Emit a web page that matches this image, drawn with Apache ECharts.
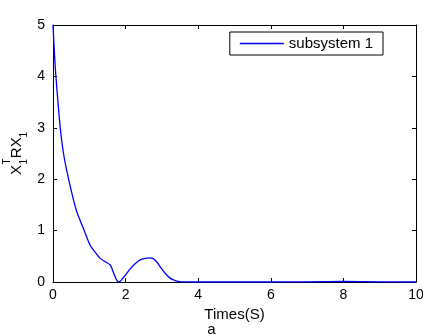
<!DOCTYPE html>
<html>
<head>
<meta charset="utf-8">
<script src="https://cdn.jsdelivr.net/npm/echarts@6/dist/echarts.min.js"></script>
<style>
  html, body { margin: 0; padding: 0; background: #fff; }
  #main { width: 423px; height: 336px; }
</style>
</head>
<body>
<div id="main"></div>
<script>
// time (s) and X1'RX1 values
var times = [0, 0.04, 0.08, 0.2, 0.29, 0.43, 0.64, 0.86, 1.02, 1.17, 1.3, 1.45, 1.58, 1.63, 1.7, 1.75, 1.8, 1.86, 1.92, 1.99, 2.12, 2.27, 2.4, 2.54, 2.65, 2.75, 2.86, 2.97, 3.09, 3.2, 3.32, 3.45, 3.6, 4, 6, 7, 8, 9, 10];
var values = [5, 4.45, 4, 3, 2.5, 2, 1.4, 1.0, 0.72, 0.57, 0.46, 0.39, 0.33, 0.25, 0.12, 0.04, 0.005, 0.02, 0.07, 0.13, 0.25, 0.36, 0.43, 0.46, 0.47, 0.46, 0.39, 0.28, 0.17, 0.09, 0.04, 0.01, 0, 0, 0, 0.003, 0.01, 0.003, 0];
var xTicks = [0, 2, 4, 6, 8, 10];
var yTicks = [0, 1, 2, 3, 4, 5];

var seriesData = times.map(function (t, i) { return [t, values[i]]; });

var font = 'Liberation Sans, Arial, sans-serif';
var chart = echarts.init(document.getElementById('main'));

function axisBase() {
  return {
    axisLine: { show: true, onZero: false, lineStyle: { color: '#000', width: 1 } },
    axisTick: { show: true, inside: true, length: 4, lineStyle: { color: '#000' } },
    splitLine: { show: false }
  };
}

chart.setOption({
  animation: false,
  title: {
    text: 'a', left: 'center', top: 317,
    textStyle: { fontFamily: font, fontSize: 15, fontWeight: 'normal', color: '#000' }
  },
  grid: { left: 53, right: 7, top: 25, bottom: 54, containLabel: false, outerBoundsMode: 'none' },
  legend: {
    data: ['subsystem 1'],
    right: 40, top: 32,
    itemWidth: 44, itemHeight: 15,
    itemGap: 6,
    padding: [4, 10, 4, 10],
    borderColor: '#000', borderWidth: 1,
    icon: 'path://M0,7 L44,7 L44,8.4 L0,8.4 Z',
    itemStyle: { color: '#0000ff', borderWidth: 0 },
    textStyle: { fontFamily: font, fontSize: 15, color: '#000' }
  },
  xAxis: [
    Object.assign(axisBase(), {
      type: 'value', min: 0, max: 10, interval: 2,
      name: 'Times(S)', nameLocation: 'middle', nameGap: 19,
      nameTextStyle: { fontFamily: font, fontSize: 15, color: '#000' },
      axisLabel: { fontFamily: font, fontSize: 14, color: '#000', margin: 6,
        formatter: function (v) { return xTicks.indexOf(v) >= 0 ? String(v) : ''; } }
    }),
    Object.assign(axisBase(), {
      type: 'value', min: 0, max: 10, interval: 2, position: 'top',
      axisLabel: { show: false }
    })
  ],
  yAxis: [
    Object.assign(axisBase(), {
      type: 'value', min: 0, max: 5, interval: 1,
      axisLabel: { fontFamily: font, fontSize: 14, color: '#000', margin: 8,
        formatter: function (v) { return yTicks.indexOf(v) >= 0 ? String(v) : ''; } }
    }),
    Object.assign(axisBase(), {
      type: 'value', min: 0, max: 5, interval: 1, position: 'right',
      axisLabel: { show: false }
    })
  ],
  // y-axis label X_1^T R X_1, rotated like the MATLAB ylabel
  graphic: [{
    type: 'group',
    x: 17, y: 175,
    rotation: Math.PI / 2,
    children: [
      { type: 'text', x: 0, y: 0, style: { text: 'X', font: '15px ' + font, fill: '#000', verticalAlign: 'middle', align: 'left' } },
      { type: 'text', x: 10.5, y: 7, style: { text: '1', font: '10px ' + font, fill: '#000', verticalAlign: 'middle', align: 'left' } },
      { type: 'text', x: 10.5, y: -10, style: { text: 'T', font: '10px ' + font, fill: '#000', verticalAlign: 'middle', align: 'left' } },
      { type: 'text', x: 16.8, y: 0, style: { text: 'RX', font: '15px ' + font, fill: '#000', verticalAlign: 'middle', align: 'left' } },
      { type: 'text', x: 37.6, y: 7, style: { text: '1', font: '10px ' + font, fill: '#000', verticalAlign: 'middle', align: 'left' } }
    ]
  }],
  series: [{
    name: 'subsystem 1',
    type: 'line',
    data: seriesData,
    smooth: 0.25,
    showSymbol: false,
    lineStyle: { color: '#0000ff', width: 1.3 },
    itemStyle: { color: '#0000ff' }
  }]
});
</script>
</body>
</html>
